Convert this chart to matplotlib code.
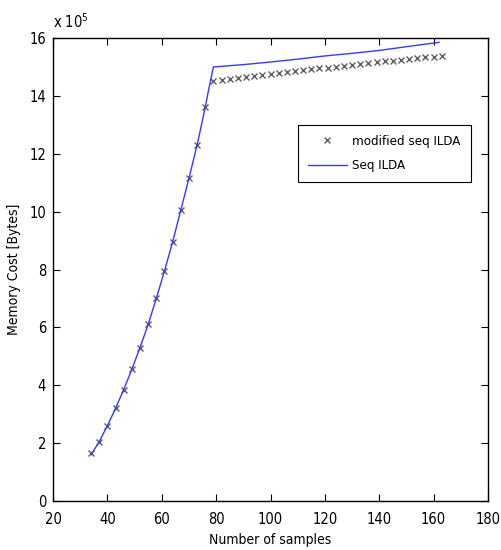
import matplotlib.pyplot as plt

plt.rcParams['font.family'] = ['DejaVu Sans']
plt.rcParams['font.stretch'] = 'condensed'

# modified seq ILDA (markers), memory in units of 1e5 bytes
mod_x = [34, 37, 40, 43, 46, 49, 52, 55, 58, 61, 64, 67, 70, 73, 76,
         79, 82, 85, 88, 91, 94, 97, 100, 103, 106, 109, 112, 115, 118, 121,
         124, 127, 130, 133, 136, 139, 142, 145, 148, 151, 154, 157, 160, 163]
mod_y = [1.65, 2.05, 2.6, 3.2, 3.85, 4.55, 5.3, 6.1, 7.0, 7.95, 8.95, 10.05, 11.15, 12.3, 13.6,
         14.5, 14.55, 14.58, 14.62, 14.65, 14.68, 14.72, 14.75, 14.78, 14.82, 14.85, 14.88, 14.92, 14.95, 14.98,
         15.01, 15.04, 15.07, 15.1, 15.13, 15.16, 15.19, 15.21, 15.24, 15.27, 15.3, 15.33, 15.35, 15.37]

# Seq ILDA (line)
seq_x = [34, 37, 40, 43, 46, 49, 52, 55, 58, 61, 64, 67, 70, 73, 76, 77, 79,
         90, 100, 110, 120, 130, 140, 150, 162]
seq_y = [1.6, 2.05, 2.6, 3.2, 3.85, 4.55, 5.3, 6.1, 7.0, 7.95, 8.95, 10.05, 11.15, 12.3, 13.6, 14.1, 15.0,
         15.08, 15.17, 15.27, 15.38, 15.47, 15.57, 15.7, 15.85]

xticks = [20, 40, 60, 80, 100, 120, 140, 160, 180]
yticks = [0, 2, 4, 6, 8, 10, 12, 14, 16]

fig = plt.figure(figsize=(5.02, 5.5), dpi=100)
ax = fig.add_axes([53 / 502, 1 - 501 / 550, 435 / 502, 463 / 550])

ax.plot(mod_x, mod_y, linestyle='none', marker='x', color='#606060',
        markersize=5, markeredgewidth=1.0, label='modified seq ILDA')
ax.plot(seq_x, seq_y, color='#3838ff', linewidth=1.0, label='Seq ILDA')

ax.set_xlim(20, 180)
ax.set_ylim(0, 16)
ax.set_xticks(xticks)
ax.set_yticks(yticks)
ax.tick_params(direction='in', top=True, right=True, length=5, labelsize=10.5)
ax.tick_params(axis='x', pad=8)
ax.tick_params(axis='y', pad=5)
for s in ax.spines.values():
    s.set_linewidth(1.0)

ax.set_xlabel('Number of samples', fontsize=10, labelpad=4)
ax.set_ylabel('Memory Cost [Bytes]', fontsize=10, labelpad=6)
ax.text(0.0, 1.015, r'x 10$^5$', transform=ax.transAxes, fontsize=10.5, va='bottom', ha='left')

leg = ax.legend(loc='upper left', bbox_to_anchor=(0.5625, 0.812), borderaxespad=0,
                fontsize=9.5, fancybox=False, framealpha=1, edgecolor='black',
                borderpad=0.75, handlelength=3.0, handletextpad=0.4, labelspacing=0.85)
leg.get_frame().set_linewidth(0.8)

fig.savefig('out.png', dpi=100)
